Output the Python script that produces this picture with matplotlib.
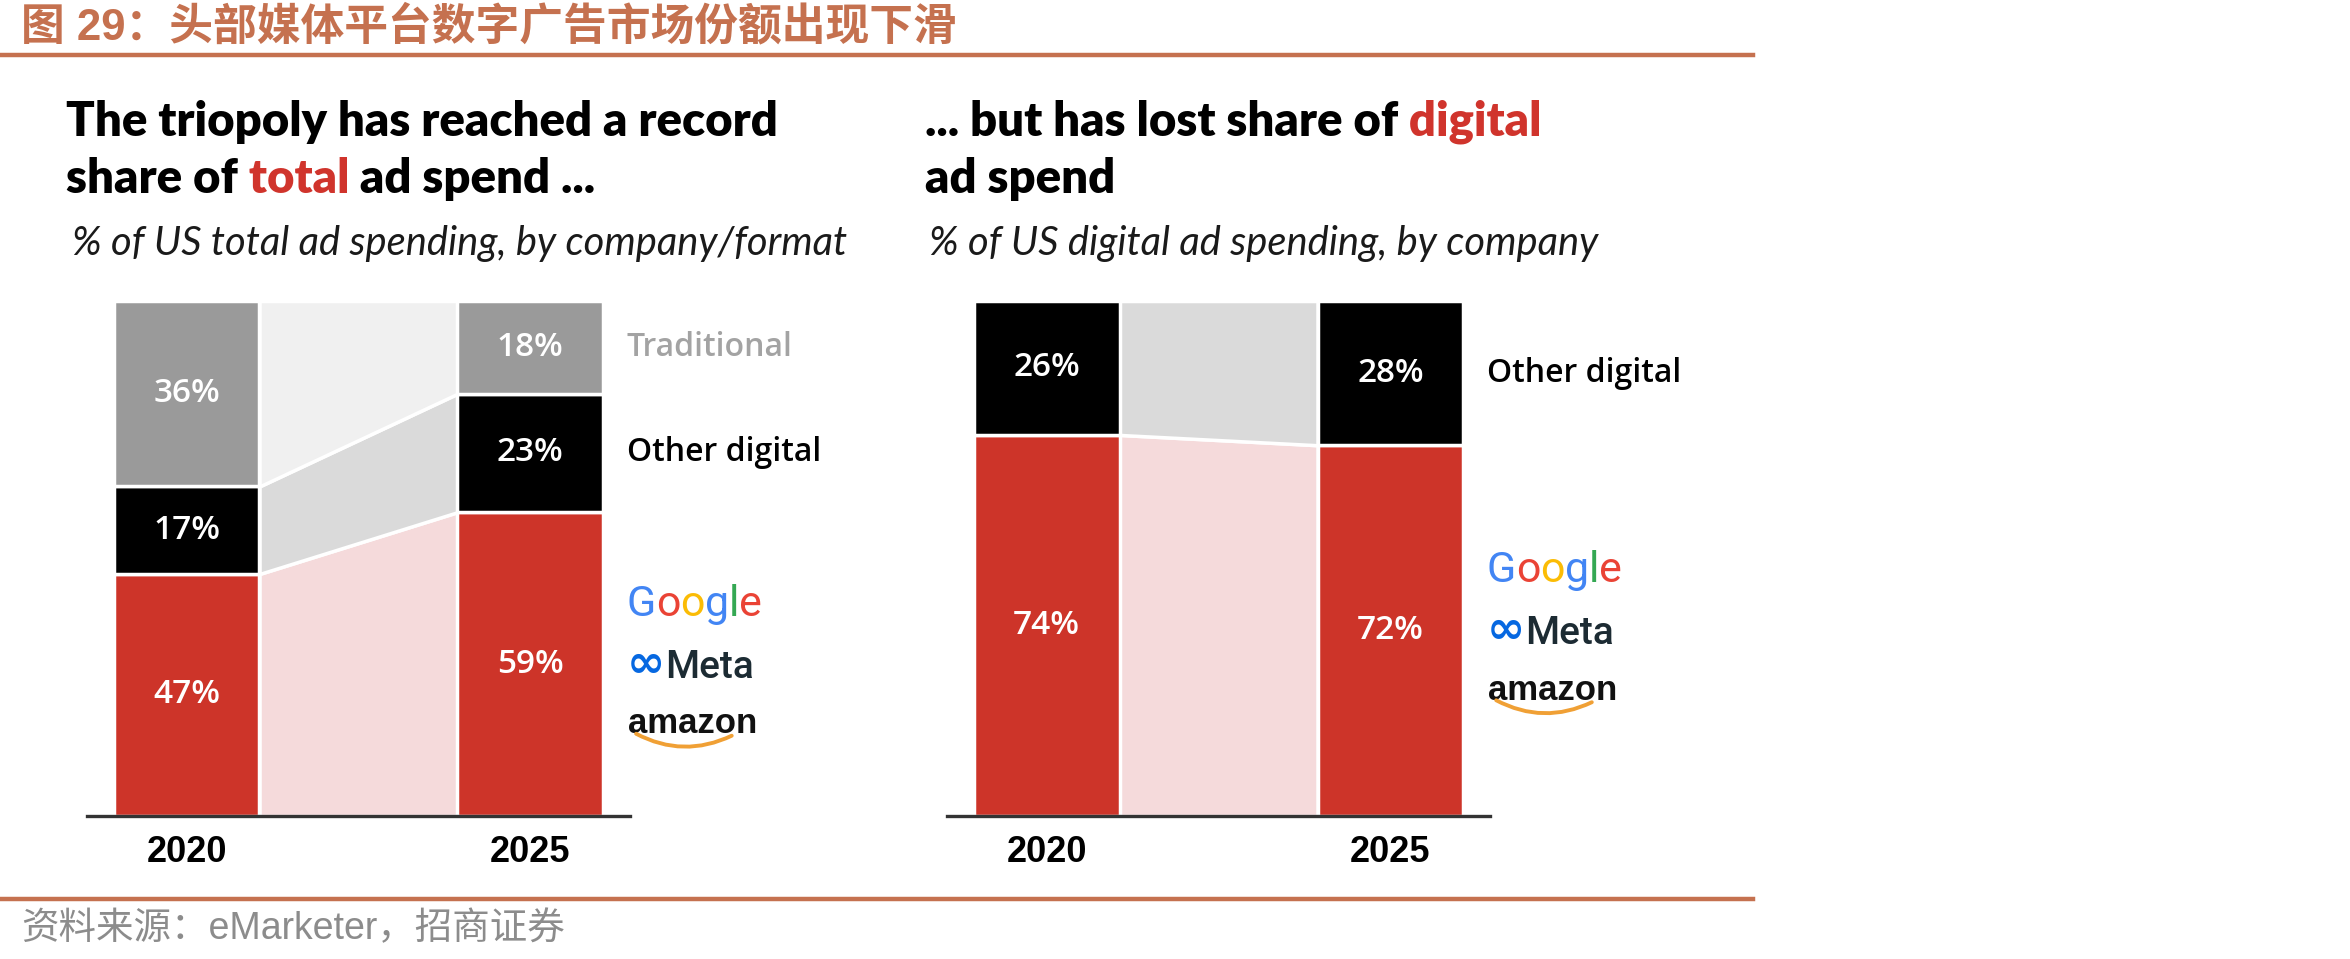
import matplotlib
matplotlib.use("Agg")
import matplotlib.pyplot as plt
from matplotlib.lines import Line2D

years = ["2020", "2025"]

# % of US total ad spending, by company/format
total_names = ["Triopoly", "Other digital", "Traditional"]
total_2020 = [47, 17, 36]
total_2025 = [59, 23, 18]

# % of US digital ad spending, by company
digital_names = ["Triopoly", "Other digital"]
digital_2020 = [74, 26]
digital_2025 = [72, 28]

bar_colors = ["#CD3429", "#000000", "#9A9A9A"]
band_colors = ["#F5DADB", "#DADADA", "#F0F0F0"]
name_colors = [None, "#000000", "#A3A3A3"]

brown = "#C5714F"
W = 0.424  # bar width in data units


def chain_text(first, parts, **kw):
    # draw several coloured pieces one after another on one line
    t = first
    for s, c in parts:
        t = ax_l.annotate(s, xy=(1, 0), xycoords=t, va="bottom", ha="left",
                          color=c, **kw)
    return t


def draw_panel(ax, first, second, names):
    x = [0, 1]
    bottom = [0, 0]
    for i in range(len(first)):
        h = [first[i], second[i]]
        top = [bottom[0] + h[0], bottom[1] + h[1]]
        ax.fill_between([W / 2, 1 - W / 2], bottom, top, color=band_colors[i],
                        edgecolor="white", lw=2.5)
        bars = ax.bar(x, h, W, bottom=bottom, color=bar_colors[i],
                      edgecolor="white", lw=2.5)
        ax.bar_label(bars, labels=[f"{v}%" for v in h], label_type="center",
                     color="white", fontsize=24, fontfamily="Open Sans",
                     fontweight="semibold")
        if name_colors[i]:
            ax.text(1.28, bottom[1] + h[1] / 2, names[i], color=name_colors[i],
                    fontsize=23, fontfamily="Open Sans", fontweight="semibold",
                    va="center", ha="left")
        bottom = top

    ax.set_xlim(-0.29, 1.29)
    ax.set_ylim(0, 100)
    for s in ["top", "left", "right"]:
        ax.spines[s].set_visible(False)
    ax.spines["bottom"].set_color("#333333")
    ax.spines["bottom"].set_linewidth(2.4)
    ax.spines["bottom"].set_zorder(5)
    ax.set_yticks([])
    ax.set_xticks([0, 1], years)
    ax.tick_params(axis="x", length=0, pad=14, labelsize=26)
    for lbl in ax.get_xticklabels():
        lbl.set_fontweight("bold")
        lbl.set_fontfamily("Liberation Sans")

    # company logos as text, centred on the red block of 2025
    yc = second[0] / 2
    kw = dict(fontsize=31, fontfamily=["Roboto", "DejaVu Sans"])
    g = ax.text(1.28, yc + 11.6, "G", color="#4285F4", va="center", ha="left", **kw)
    for s, c in [("o", "#EA4335"), ("o", "#FBBC05"), ("g", "#4285F4"),
                 ("l", "#34A853"), ("e", "#EA4335")]:
        g = ax.annotate(s, xy=(1, 0), xycoords=g, va="bottom", ha="left", color=c, **kw)
    m = ax.text(1.28, yc, "\u221e", color="#0668E1", va="center", ha="left",
                fontsize=33, fontweight="bold", fontfamily=["DejaVu Sans"])
    ax.annotate("Meta", xy=(1, 0.02), xycoords=m, va="bottom", ha="left",
                color="#1C2B33", fontsize=28, fontfamily="Roboto", fontweight="medium")
    a = ax.text(1.285, yc - 11.6, "amazon", color="#111111", va="center", ha="left",
                fontsize=25, fontfamily="Liberation Sans", fontweight="bold")
    ax.annotate("", xy=(0.80, 0.14), xycoords=a, xytext=(0.06, 0.2), textcoords=a,
                arrowprops=dict(arrowstyle="-", color="#F0A035", lw=2.8,
                                connectionstyle="arc3,rad=0.25",
                                shrinkA=0, shrinkB=0))


fig = plt.figure(figsize=(23.5, 9.59), dpi=100)
ax_l = fig.add_axes([0.0370, 0.1491, 0.2311, 0.5370])
ax_r = fig.add_axes([0.4030, 0.1491, 0.2311, 0.5370])

draw_panel(ax_l, total_2020, total_2025, total_names)
draw_panel(ax_r, digital_2020, digital_2025, digital_names)

# header and footer
cjk = ["Liberation Sans", "Noto Sans CJK SC"]
fig.text(0.009, 0.972, "图 29：头部媒体平台数字广告市场份额出现下滑", color=brown,
         fontsize=31.5, fontweight="bold", family=cjk, va="center", ha="left")
fig.add_artist(Line2D([0, 0.746], [0.9426, 0.9426], color=brown, lw=3.2))
fig.add_artist(Line2D([0, 0.746], [0.0626, 0.0626], color=brown, lw=3.2))
fig.text(0.009, 0.031, "资料来源：eMarketer，招商证券", color="#8C8C8C",
         fontsize=27, family=cjk, va="center", ha="left")

# panel titles
tkw = dict(fontsize=34, fontfamily="Lato", fontweight="heavy")
y1 = 1 - 122 / 959
y2 = 1 - 179 / 959
fig.text(0.028, y1, "The triopoly has reached a record", va="center",
         ha="left", color="black", **tkw)
t = fig.text(0.028, y2, "share of", va="center", ha="left", color="black", **tkw)
chain_text(t, [(" total", "#D0342C"), (" ad spend ...", "black")], **tkw)

t = fig.text(0.3936, y1, "... but has lost share of", va="center", ha="left",
             color="black", **tkw)
chain_text(t, [(" digital", "#D0342C")], **tkw)
fig.text(0.3936, y2, "ad spend", va="center", ha="left", color="black", **tkw)

skw = dict(fontsize=28.7, fontfamily="Lato", fontweight="normal", fontstyle="italic",
           color="#1A1A1A", va="center", ha="left")
fig.text(0.0306, 1 - 244 / 959, "% of US total ad spending, by company/format", **skw)
fig.text(0.3953, 1 - 244 / 959, "% of US digital ad spending, by company", **skw)

fig.savefig("out.png", dpi=100, facecolor="white")
